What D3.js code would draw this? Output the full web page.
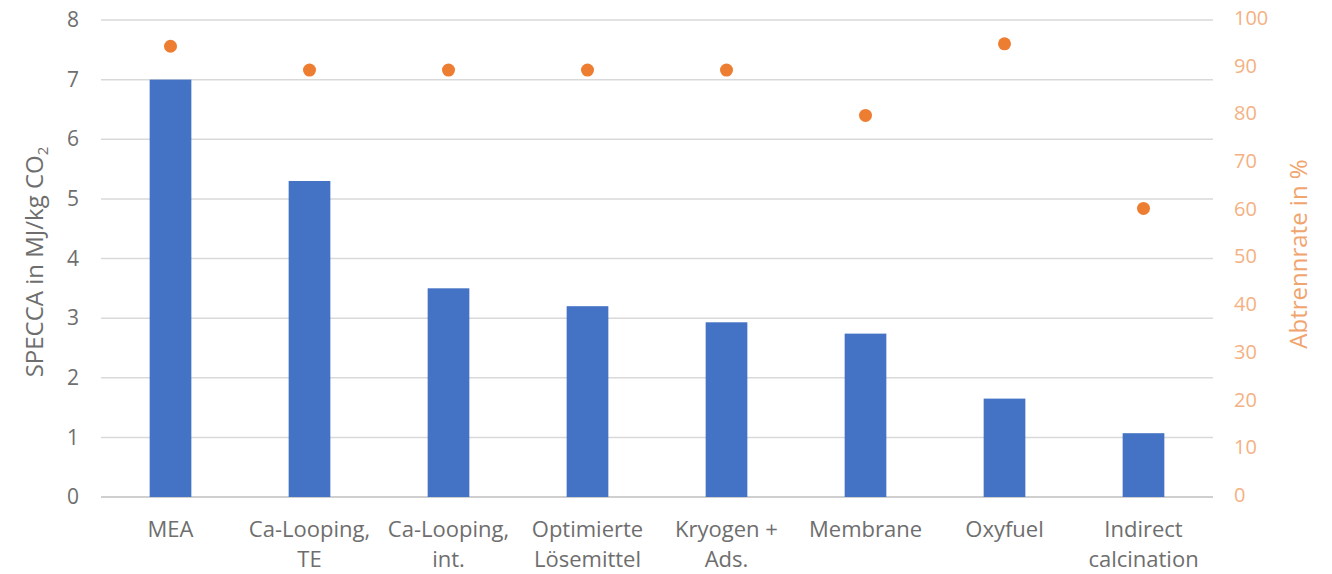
<!DOCTYPE html>
<html>
<head>
<meta charset="utf-8">
<script src="https://cdn.jsdelivr.net/npm/d3@7"></script>
<style>
  body { margin: 0; background: #fff; }
  svg text { font-family: "Open Sans", "Noto Sans", sans-serif; }
</style>
</head>
<body>
<svg id="chart" width="1332" height="574"></svg>
<script>
const categories = [
  ['MEA'],
  ['Ca-Looping,', 'TE'],
  ['Ca-Looping,', 'int.'],
  ['Optimierte', 'Lösemittel'],
  ['Kryogen +', 'Ads.'],
  ['Membrane'],
  ['Oxyfuel'],
  ['Indirect', 'calcination']
]
const specca = [7.0, 5.3, 3.5, 3.2, 2.93, 2.74, 1.65, 1.07]
const abtrennrate = [94.5, 89.5, 89.5, 89.5, 89.5, 80, 95, 60.5]
const leftTicks = [0, 1, 2, 3, 4, 5, 6, 7, 8]
const rightTicks = [0, 10, 20, 30, 40, 50, 60, 70, 80, 90, 100]

const margin = { top: 20, right: 119, bottom: 77, left: 101 }
const width = 1332
const height = 574
const svg = d3.select('#chart')

const keys = categories.map((c) => c.join(' '))
const x = d3.scaleBand()
  .domain(keys)
  .range([margin.left, width - margin.right])
  .paddingInner(0.7)
  .paddingOuter(0.35)
const yLeft = d3.scaleLinear().domain([0, 8]).range([height - margin.bottom, margin.top])
const yRight = d3.scaleLinear().domain([0, 100]).range([height - margin.bottom, margin.top])

// gridlines
svg.append('g')
  .selectAll('line')
  .data(leftTicks)
  .join('line')
  .attr('x1', margin.left)
  .attr('x2', width - margin.right)
  .attr('y1', (d) => yLeft(d))
  .attr('y2', (d) => yLeft(d))
  .attr('stroke', (d) => d === 0 ? '#bfbfbf' : '#d9d9d9')
  .attr('stroke-width', 1.5)

// bars
svg.append('g')
  .selectAll('rect')
  .data(specca)
  .join('rect')
  .attr('x', (d, i) => x(keys[i]))
  .attr('width', x.bandwidth())
  .attr('y', (d) => yLeft(d))
  .attr('height', (d) => yLeft(0) - yLeft(d))
  .attr('fill', '#4472c4')

// dots
svg.append('g')
  .selectAll('circle')
  .data(abtrennrate)
  .join('circle')
  .attr('cx', (d, i) => x(keys[i]) + x.bandwidth() / 2)
  .attr('cy', (d) => yRight(d))
  .attr('r', 6.5)
  .attr('fill', '#ed7d31')

// left axis
const leftAxis = svg.append('g')
  .attr('transform', `translate(${margin.left - 22},0)`)
  .call(d3.axisLeft(yLeft).tickValues(leftTicks).tickSize(0).tickPadding(0))
leftAxis.select('.domain').remove()
leftAxis.selectAll('text')
  .attr('font-size', 21)
  .attr('fill', '#6e6e6e')

// right axis
const rightAxis = svg.append('g')
  .attr('transform', `translate(${width - margin.right + 21},-2)`)
  .call(d3.axisRight(yRight).tickValues(rightTicks).tickSize(0).tickPadding(0))
rightAxis.select('.domain').remove()
rightAxis.selectAll('text')
  .attr('font-size', 20)
  .attr('fill', '#f4b183')

// category labels
svg.append('g')
  .selectAll('text')
  .data(categories)
  .join('text')
  .attr('x', (d, i) => x(keys[i]) + x.bandwidth() / 2)
  .attr('y', 537)
  .attr('text-anchor', 'middle')
  .attr('font-size', 22)
  .attr('fill', '#6e6e6e')
  .selectAll('tspan')
  .data((d) => d)
  .join('tspan')
  .attr('x', function () { return this.parentNode.getAttribute('x') })
  .attr('dy', (d, i) => i === 0 ? 0 : 30)
  .text((d) => d)

// axis titles
const leftTitle = svg.append('text')
  .attr('transform', 'translate(43,262) rotate(-90)')
  .attr('text-anchor', 'middle')
  .attr('font-size', 24)
  .attr('fill', '#6e6e6e')
leftTitle.append('tspan').text('SPECCA in MJ/kg CO')
leftTitle.append('tspan').attr('font-size', 15).attr('dy', 5).text('2')

svg.append('text')
  .attr('transform', 'translate(1307,254) rotate(-90)')
  .attr('text-anchor', 'middle')
  .attr('font-size', 24)
  .attr('fill', '#f0a46e')
  .text('Abtrennrate in %')
</script>
</body>
</html>
